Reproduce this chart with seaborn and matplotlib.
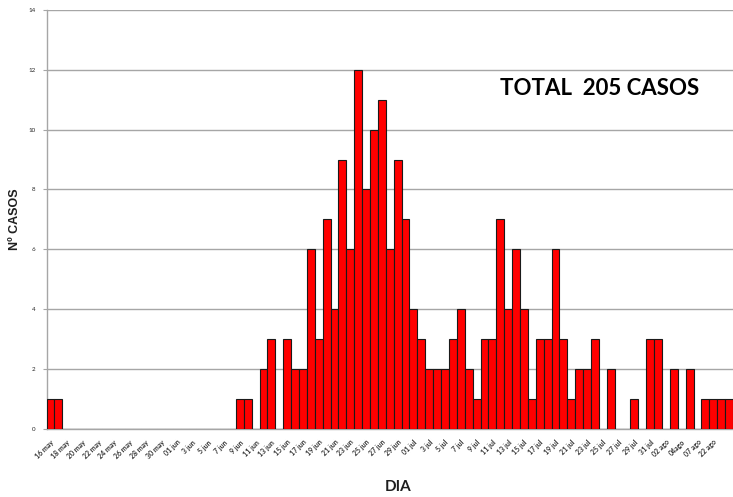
import numpy as np
import seaborn as sns
import matplotlib.pyplot as plt
import pandas as pd

# casos diarios, desde el 16 de mayo (un valor por barra)
casos = [1, 1, 0, 0, 0, 0, 0, 0, 0, 0, 0, 0, 0, 0, 0, 0,
         0, 0, 0, 0, 0, 0, 0, 0, 1, 1, 0, 2, 3, 0, 3, 2,
         2, 6, 3, 7, 4, 9, 6, 12, 8, 10, 11, 6, 9, 7, 4, 3,
         2, 2, 2, 3, 4, 2, 1, 3, 3, 7, 4, 6, 4, 1, 3, 3,
         6, 3, 1, 2, 2, 3, 0, 2, 0, 0, 1, 0, 3, 3, 0, 2,
         0, 2, 0, 1, 1, 1, 1]

# etiquetas del eje x (una cada dos barras)
etiquetas = ['16 may', '18 may', '20 may', '22 may', '24 may', '26 may', '28 may', '30 may',
             '01 jun', '3 jun', '5 jun', '7 jun', '9 jun', '11 jun', '13 jun', '15 jun',
             '17 jun', '19 jun', '21 jun', '23 jun', '25 jun', '27 jun', '29 jun',
             '01 jul', '3 jul', '5 jul', '7 jul', '9 jul', '11 jul', '13 jul', '15 jul',
             '17 jul', '19 jul', '21 jul', '23 jul', '25 jul', '27 jul', '29 jul', '31 jul',
             '02 ago', '04ago', '07 ago', '22 ago']

df = pd.DataFrame({'dia': range(len(casos)), 'casos': casos})

sns.set_style('white')
plt.rcParams['font.family'] = ['Lato', 'DejaVu Sans']

fig = plt.figure(figsize=(7.33, 4.97), dpi=100)
ax = fig.add_axes([0.0635, 0.137, 0.9365, 0.843])

sns.barplot(data=df, x='dia', y='casos', color='#ff0000', saturation=1,
            width=1, edgecolor='#1a1a1a', linewidth=0.8, ax=ax, zorder=3)

ax.set_xlim(-0.5, len(casos) - 0.5)
ax.set_ylim(0, 14)
ax.set_yticks(range(0, 15, 2))
ax.yaxis.grid(True, color='#a6a6a6', linewidth=1.0, zorder=0)
ax.set_axisbelow(True)

ax.set_xticks(range(0, 2 * len(etiquetas), 2))
ax.set_xticklabels(etiquetas, rotation=45, ha='right', rotation_mode='anchor',
                   fontsize=5, fontweight='bold', color='#333333')
ax.tick_params(axis='x', length=0, pad=7)
ax.tick_params(axis='y', labelsize=4.5, length=3, width=0.8, color='#a6a6a6',
               direction='out', left=True, pad=5)

for s in ['top', 'right']:
    ax.spines[s].set_visible(False)
for s in ['left', 'bottom']:
    ax.spines[s].set_color('#a6a6a6')
    ax.spines[s].set_linewidth(1.0)

ax.set_xlabel('DIA', fontsize=11, fontweight='bold', color='#1f1f1f')
ax.xaxis.set_label_coords(0.512, -0.138)
ax.xaxis.label.set_va('center')
ax.set_ylabel('Nº CASOS', fontsize=9, fontweight='bold', color='#1f1f1f',
              family=['Liberation Sans', 'DejaVu Sans'])
ax.yaxis.set_label_coords(-0.046, 0.5)
ax.yaxis.label.set_va('center')

fig.text(0.818, 0.822, 'TOTAL  205 CASOS', fontsize=16, fontweight='bold',
         ha='center', va='center', color='black')

fig.savefig('out.png', dpi=100)
